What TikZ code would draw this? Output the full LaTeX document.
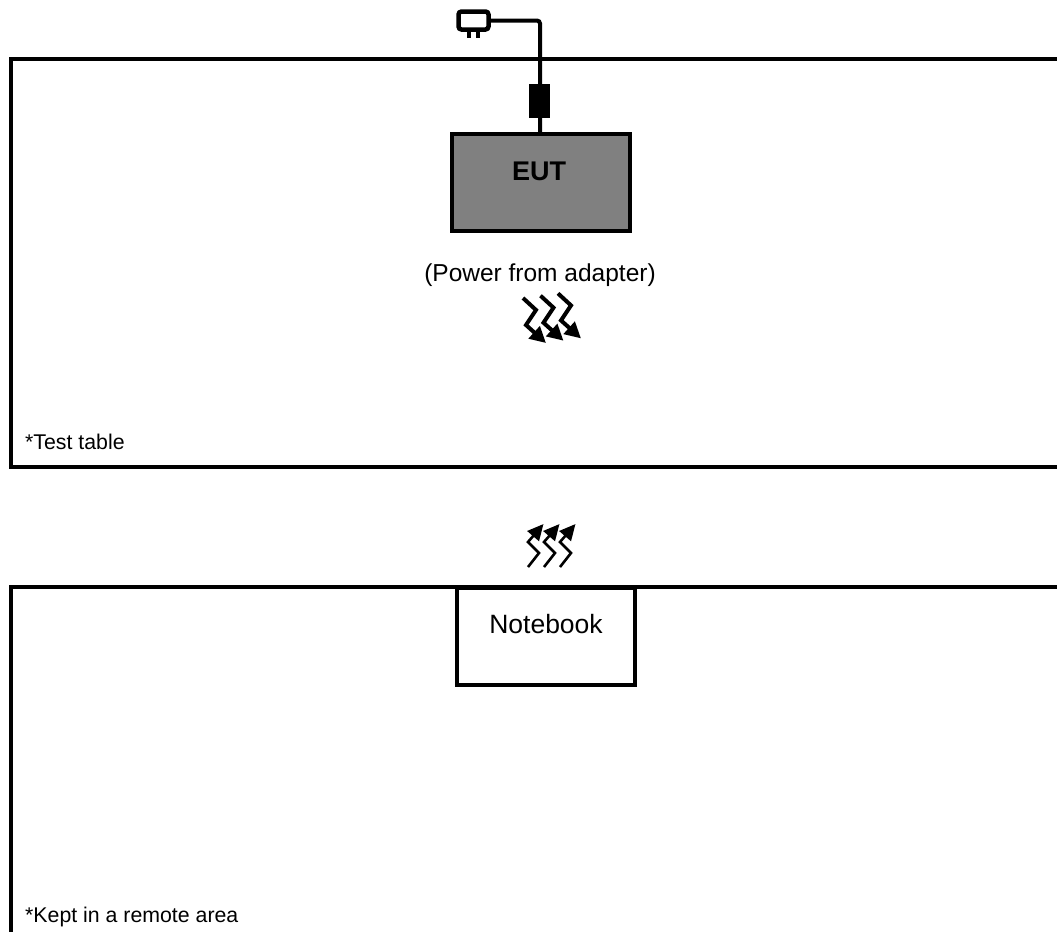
\documentclass[tikz,border=0pt]{standalone}
\usepackage{fontspec}
\setmainfont{Liberation Sans}
\usepackage{tikz}
\usetikzlibrary{arrows.meta}

\begin{document}
\begin{tikzpicture}[
  x=1pt, y=-1pt,
  frame/.style={draw, line width=4pt, inner sep=0pt},
  wire/.style={line width=4pt, rounded corners=3pt},
  caption/.style={inner sep=0pt, anchor=base, font=\fontsize{24.5}{28}\selectfont},
  note/.style={inner sep=0pt, anchor=base west, font=\fontsize{21.3}{24}\selectfont},
  heatdown/.style={line width=4pt, -{Triangle[length=16pt,width=16pt]}},
  heatup/.style={line width=2.6pt, -{Triangle[length=16pt,width=15pt]}},
]
\useasboundingbox (0,0) rectangle (1057,932);

% Tables
\draw[line width=4pt] (1057,59) -- (11,59) -- (11,467) -- (1057,467);
\draw[line width=4pt] (1057,587) -- (11,587) -- (11,932);
\node[note] (testnote) at (25,449) {*Test table};
\node[note] (remotenote) at (25,922) {*Kept in a remote area};

% Equipment
\node[frame, fill=black!50, minimum width=178pt, minimum height=97pt] (eut) at (541,182.5) {};
\node[caption, font=\fontsize{27}{30}\selectfont\bfseries] (eutname) at (539,180) {EUT};
\node[caption] (power) at (540,281) {(Power from adapter)};
\node[frame, fill=white, minimum width=178pt, minimum height=97pt] (notebook) at (546,636) {};
\node[caption, font=\fontsize{26.5}{30}\selectfont] (notebookname) at (546,633) {Notebook};

% Adapter
\node[frame, fill=white, rounded corners=3pt, line width=4.5pt, minimum width=30pt, minimum height=18pt] (plug) at (473.5,20.5) {};
\coordinate (prongA) at (469,30);
\coordinate (prongB) at (478,30);
\coordinate (inlet) at (540,134);
\draw[line width=4pt] (prongA) -- ++(0,8);
\draw[line width=4pt] (prongB) -- ++(0,8);
\draw[wire] (plug.east) -| (inlet);
\node[fill=black, inner sep=0pt, minimum width=21pt, minimum height=34pt] (choke) at (539.5,101) {};

% Heat
\foreach \i/\dx/\dy in {0/0/0, 1/17.5/-2.3, 2/35/-4.6} {
  \draw[heatdown] (523+\dx,298+\dy) -- (536+\dx,310+\dy) -- (526+\dx,325+\dy) -- (546+\dx,343+\dy);
}
\foreach \i/\dx in {0/0, 1/16, 2/32} {
  \draw[heatup] (528+\dx,567) -- (539+\dx,553) -- (528+\dx,542) -- (543.5+\dx,524);
}
\end{tikzpicture}
\end{document}
